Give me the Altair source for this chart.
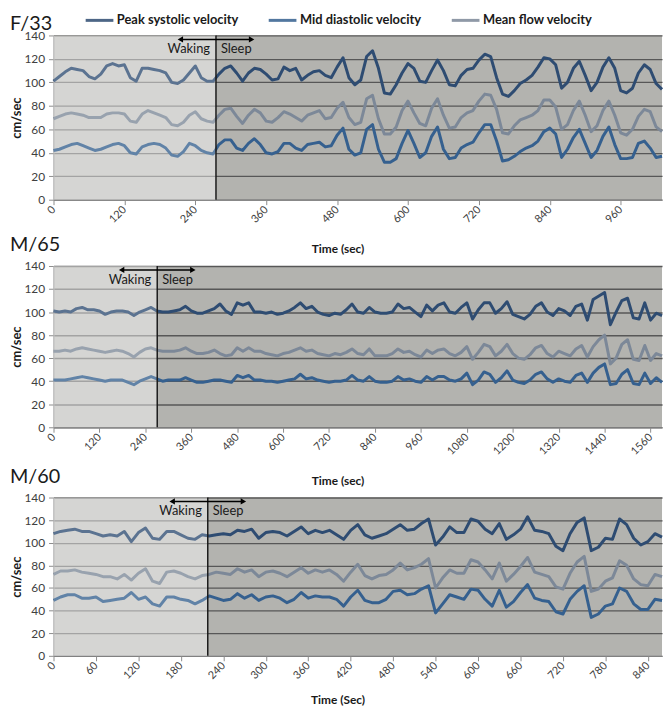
import altair as alt
import pandas as pd

series_names = ["Peak systolic velocity", "Mid diastolic velocity", "Mean flow velocity"]
series_colors = ["#2e4c72", "#35608f", "#7c8898"]
y_ticks = [0, 20, 40, 60, 80, 100, 120, 140]

# ---------------- Panel 1 : F/33 ----------------
p1_title = "F/33"
p1_xtitle = "Time (sec)"
p1_onset = 275
p1_xmax = 1030
p1_step = 10
p1_ticks = list(range(0, 961, 60))
p1_psv = [101, 105, 109, 112, 111, 110, 105, 103, 107, 114, 116, 114, 115, 104, 101, 112, 112, 111, 110, 108,
          100, 99, 102, 108, 114, 104, 101, 101, 107, 112, 114, 108, 101, 108, 112, 111, 107, 102, 103, 113,
          110, 112, 102, 106, 109, 110, 106, 104, 113, 121, 104, 98, 102, 122, 127, 112, 91, 90, 98, 108,
          116, 112, 101, 100, 110, 119, 110, 98, 97, 106, 111, 112, 119, 124, 122, 104, 90, 88, 93, 99,
          102, 106, 113, 121, 120, 115, 95, 100, 112, 118, 106, 93, 100, 113, 121, 112, 93, 91, 95, 108,
          115, 111, 99, 94]
p1_mfv = [69, 71, 73, 74, 73, 72, 70, 70, 70, 73, 74, 74, 73, 67, 66, 73, 76, 74, 72, 70,
          64, 63, 66, 72, 75, 69, 67, 66, 72, 77, 78, 71, 65, 72, 77, 74, 67, 66, 70, 75,
          73, 70, 67, 72, 74, 76, 69, 70, 78, 83, 70, 64, 66, 86, 89, 69, 56, 56, 62, 76,
          84, 74, 65, 63, 78, 86, 72, 61, 62, 70, 74, 76, 84, 90, 89, 77, 57, 56, 63, 68,
          70, 72, 76, 85, 85, 79, 60, 64, 76, 84, 72, 58, 63, 76, 84, 72, 57, 55, 60, 71,
          77, 75, 62, 58]
p1_mdv = [42, 43, 45, 47, 48, 46, 44, 42, 43, 45, 47, 48, 46, 40, 39, 45, 47, 48, 47, 44,
          38, 37, 41, 48, 46, 42, 40, 39, 47, 51, 51, 44, 42, 48, 52, 47, 40, 39, 41, 48,
          48, 44, 42, 47, 48, 49, 45, 46, 55, 61, 43, 38, 40, 60, 64, 43, 32, 32, 35, 48,
          59, 48, 36, 40, 54, 62, 43, 35, 36, 44, 47, 49, 57, 64, 64, 50, 33, 34, 37, 41,
          44, 46, 50, 58, 61, 56, 36, 43, 53, 60, 48, 36, 42, 54, 62, 47, 35, 35, 36, 48,
          50, 44, 36, 37]

# ---------------- Panel 2 : M/65 ----------------
p2_title = "M/65"
p2_xtitle = "Time (sec)"
p2_onset = 271
p2_xmax = 1590
p2_step = 15
p2_ticks = list(range(0, 1561, 60))
p2_psv = [101, 100, 101, 100, 103, 104, 102, 102, 101, 98, 100, 101, 101, 100, 97, 100, 102, 104, 101, 100,
          100, 101, 102, 105, 101, 99, 99, 101, 103, 107, 101, 98, 108, 106, 108, 100, 100, 99, 100, 98,
          99, 101, 104, 108, 103, 105, 100, 98, 97, 99, 98, 102, 107, 100, 99, 104, 100, 99, 99, 100,
          107, 103, 104, 100, 96, 106, 101, 106, 108, 100, 99, 104, 108, 94, 102, 108, 108, 99, 103, 109,
          98, 96, 94, 98, 105, 108, 100, 97, 103, 101, 97, 105, 107, 93, 111, 114, 117, 89, 100, 110,
          112, 95, 94, 108, 93, 99, 97]
p2_mfv = [66, 66, 67, 66, 68, 69, 68, 67, 66, 65, 66, 67, 66, 64, 61, 65, 68, 69, 67, 66,
          66, 66, 67, 69, 66, 64, 64, 65, 67, 64, 62, 63, 69, 66, 69, 66, 66, 64, 63, 62,
          64, 65, 67, 69, 66, 67, 64, 63, 62, 64, 63, 65, 68, 64, 63, 68, 62, 62, 62, 64,
          68, 65, 66, 63, 61, 67, 64, 67, 68, 64, 62, 65, 70, 59, 65, 72, 70, 62, 66, 72,
          64, 60, 59, 63, 69, 71, 64, 61, 66, 64, 62, 68, 71, 61, 70, 76, 80, 55, 60, 72,
          76, 59, 58, 71, 58, 64, 62]
p2_mdv = [41, 41, 41, 42, 43, 44, 43, 42, 41, 40, 41, 41, 41, 39, 37, 40, 42, 44, 42, 40,
          41, 41, 41, 43, 41, 39, 39, 40, 41, 41, 40, 39, 45, 43, 45, 41, 41, 40, 40, 39,
          40, 41, 42, 46, 42, 43, 41, 40, 39, 40, 40, 41, 45, 41, 40, 44, 40, 39, 39, 40,
          44, 41, 42, 40, 39, 44, 41, 44, 44, 41, 40, 42, 47, 37, 41, 48, 46, 39, 43, 49,
          41, 39, 38, 41, 46, 48, 42, 39, 42, 40, 39, 45, 47, 39, 47, 52, 55, 37, 38, 46,
          50, 38, 37, 47, 38, 43, 39]

# ---------------- Panel 3 : M/60 ----------------
p3_title = "M/60"
p3_xtitle = "Time (Sec)"
p3_onset = 218
p3_xmax = 860
p3_step = 10
p3_ticks = list(range(0, 841, 60))
p3_psv = [108, 110, 111, 112, 110, 110, 108, 106, 107, 106, 110, 101, 109, 113, 104, 103, 110, 110, 107, 104,
          103, 107, 106, 107, 108, 107, 111, 110, 112, 104, 109, 110, 109, 106, 110, 114, 108, 111, 109, 111,
          107, 103, 111, 116, 107, 104, 106, 108, 112, 116, 111, 112, 117, 121, 98, 105, 114, 109, 109, 121,
          119, 112, 108, 117, 103, 107, 112, 123, 111, 110, 108, 97, 93, 108, 118, 122, 93, 96, 104, 103,
          121, 116, 104, 98, 101, 108, 105]
p3_mfv = [72, 75, 75, 76, 74, 73, 72, 70, 70, 68, 72, 67, 73, 77, 66, 64, 74, 75, 73, 70,
          68, 71, 72, 74, 73, 72, 77, 74, 76, 70, 74, 75, 73, 70, 74, 78, 73, 76, 74, 76,
          72, 66, 74, 81, 71, 68, 71, 72, 76, 82, 76, 78, 81, 86, 60, 69, 76, 73, 73, 85,
          83, 76, 68, 82, 66, 72, 79, 87, 74, 72, 70, 61, 59, 73, 83, 88, 57, 59, 66, 69,
          84, 80, 68, 63, 62, 72, 70]
p3_mdv = [49, 52, 54, 54, 51, 51, 52, 48, 49, 50, 51, 56, 50, 52, 46, 44, 52, 52, 50, 49,
          46, 49, 53, 51, 49, 50, 55, 51, 54, 49, 52, 53, 51, 47, 50, 56, 51, 53, 52, 52,
          50, 44, 52, 58, 49, 47, 47, 50, 57, 58, 54, 55, 59, 62, 38, 46, 54, 52, 50, 59,
          58, 50, 44, 58, 43, 48, 56, 63, 51, 49, 48, 39, 37, 50, 57, 62, 34, 37, 44, 46,
          60, 57, 46, 41, 41, 50, 49]

FONT = "Lato"
BG = "#b3b3af"
W = 615

legend = alt.Legend(
    orient="none", legendX=38, legendY=-24, padding=0, direction="horizontal", title=None,
    symbolType="M-2,0H2", symbolStrokeWidth=3, symbolSize=196, symbolOpacity=0.85,
    labelFont=FONT, labelFontSize=13, labelFontWeight="bold", labelColor="#1a1a1a",
    columns=3, gridAlign="all", columnPadding=23, labelOffset=9, labelLimit=300,
)


def panel(title, title_dy, xtitle, onset, xmax, ticks, step, psv, mdv, mfv, height, tpad):
    n = len(psv)
    times = [i * step for i in range(n)]
    df = pd.DataFrame({
        "time": times * 3,
        "value": psv + mdv + mfv,
        "series": [series_names[0]] * n + [series_names[1]] * n + [series_names[2]] * n,
    })
    xscale = alt.Scale(domain=[0, xmax], nice=False)
    region = pd.DataFrame({"start": [0], "end": [onset], "onset": [onset], "label": [title]})
    reg = alt.Chart(region)

    under = reg.mark_rect(color="white", opacity=0.3).encode(
        x=alt.X("start:Q", scale=xscale), x2="end:Q", y=alt.value(0), y2=alt.value(height))

    lines = alt.Chart(df).mark_line(strokeWidth=3, strokeJoin="round").encode(
        x=alt.X("time:Q", scale=xscale, axis=alt.Axis(
            values=ticks, format="d", title=xtitle, labelAngle=-45, labelAlign="right",
            labelBaseline="middle",
            grid=False, labelFont=FONT, labelFontSize=11, labelColor="#404040",
            titleFont=FONT, titleFontSize=12, titleFontWeight="bold", titleColor="#1a1a1a",
            titlePadding=tpad, titleX=287, domainColor="#8c8c8c", tickColor="#8c8c8c",
            tickSize=5, labelPadding=3, labelOverlap=False, labelFlush=False)),
        y=alt.Y("value:Q", scale=alt.Scale(domain=[0, 140], nice=False), axis=alt.Axis(
            values=y_ticks, title="cm/sec", grid=True, gridColor="#575757", gridWidth=1.3,
            labelFont=FONT, labelFontSize=12, labelColor="#404040",
            titleFont=FONT, titleFontSize=13, titleFontWeight="bold", titleColor="#1a1a1a",
            titlePadding=0, domainColor="#8c8c8c", tickColor="#8c8c8c", tickSize=5, labelPadding=4)),
        color=alt.Color("series:N", scale=alt.Scale(domain=series_names, range=series_colors),
                        legend=legend, sort=series_names),
        order=alt.Order("time:Q"),
    )

    over = reg.mark_rect(color="white", opacity=0.22).encode(
        x="start:Q", x2="end:Q", y=alt.value(0), y2=alt.value(height))

    vline = reg.mark_rule(color="#1a1a1a", strokeWidth=1.5).encode(
        x="onset:Q", y=alt.value(0), y2=alt.value(height))

    arrow = reg.mark_rule(color="black", strokeWidth=1.5, xOffset=-36, x2Offset=36).encode(
        x="onset:Q", x2="onset:Q", y=alt.value(4))
    head_l = reg.mark_point(shape="triangle-left", filled=True, size=40, color="black",
                            opacity=1, xOffset=-36).encode(x="onset:Q", y=alt.value(4))
    head_r = reg.mark_point(shape="triangle-right", filled=True, size=40, color="black",
                            opacity=1, xOffset=36).encode(x="onset:Q", y=alt.value(4))
    t_wake = reg.mark_text(text="Waking", align="right", dx=-6, font=FONT, fontSize=13,
                           color="#1a1a1a").encode(x="onset:Q", y=alt.value(14))
    t_sleep = reg.mark_text(text="Sleep", align="left", dx=5, font=FONT, fontSize=13,
                            color="#1a1a1a").encode(x="onset:Q", y=alt.value(14))
    ttl = reg.mark_text(align="left", baseline="alphabetic", font=FONT, fontSize=20,
                        color="#1a1a1a").encode(text="label:N", x=alt.value(-44), y=alt.value(title_dy))

    return alt.layer(under, lines, over, vline, arrow, head_l, head_r, t_wake, t_sleep, ttl).properties(
        width=W, height=height)


c1 = panel(p1_title, -6, p1_xtitle, p1_onset, p1_xmax, p1_ticks, p1_step, p1_psv, p1_mdv, p1_mfv, 166, 19)
c2 = panel(p2_title, -15, p2_xtitle, p2_onset, p2_xmax, p2_ticks, p2_step, p2_psv, p2_mdv, p2_mfv, 163, 19)
c3 = panel(p3_title, -15, p3_xtitle, p3_onset, p3_xmax, p3_ticks, p3_step, p3_psv, p3_mdv, p3_mfv, 160, 14)

chart = alt.vconcat(c1, c2, c3, spacing=-20).properties(
    padding={"left": 2, "top": 0, "right": 0, "bottom": 0}).configure(
    background="white").configure_view(fill=BG, stroke=None)

chart.save("out.html", embed_options={"renderer": "svg", "actions": False})
